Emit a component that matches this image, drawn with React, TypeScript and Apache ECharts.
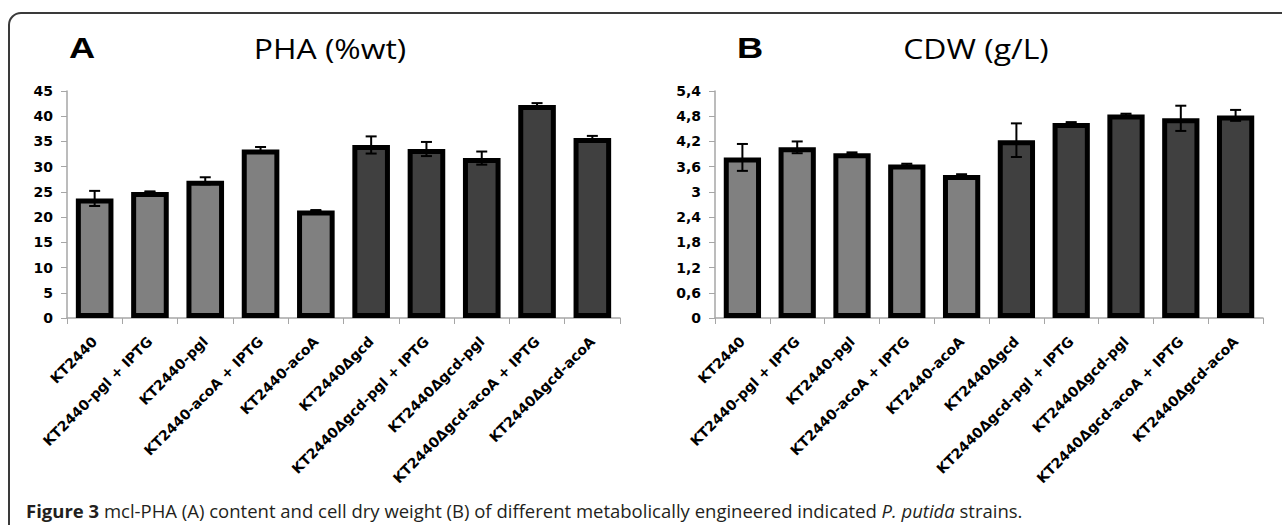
import React, { useEffect, useRef } from "react";
import * as echarts from "echarts";

const strains = [
  "KT2440",
  "KT2440-pgl + IPTG",
  "KT2440-pgl",
  "KT2440-acoA + IPTG",
  "KT2440-acoA",
  "KT2440Δgcd",
  "KT2440Δgcd-pgl + IPTG",
  "KT2440Δgcd-pgl",
  "KT2440Δgcd-acoA + IPTG",
  "KT2440Δgcd-acoA",
];
const phaMean = [23.7, 25.0, 27.2, 33.4, 21.3, 34.3, 33.5, 31.7, 42.2, 35.7];
const phaErr = [1.5, 0.1, 0.7, 0.5, 0.1, 1.7, 1.4, 1.3, 0.4, 0.4];
const cdwMean = [3.82, 4.06, 3.92, 3.65, 3.4, 4.23, 4.64, 4.84, 4.75, 4.82];
const cdwErr = [0.32, 0.14, 0.02, 0.02, 0.02, 0.4, 0.02, 0.02, 0.3, 0.13];
const phaTicks = { min: 0, max: 45, interval: 5 };
const cdwTicks = { min: 0, max: 5.4, interval: 0.6 };

const LIGHT = "#808080";
const DARK = "#404040";
const LABEL_FONT = "DejaVu Sans";

function barData(vals: number[]) {
  return vals.map((v, i) => ({
    value: v,
    itemStyle: { color: strains[i].includes("Δgcd") ? DARK : LIGHT },
  }));
}

function errRender(params: any, api: any) {
  const x = api.value(0);
  const v = api.value(1);
  const e = api.value(2);
  const hi = api.coord([x, v + e]);
  const lo = api.coord([x, v - e]);
  const hw = 5.5;
  const st = { stroke: "#000", lineWidth: 2 };
  return {
    type: "group",
    children: [
      { type: "line", shape: { x1: hi[0], y1: hi[1], x2: lo[0], y2: lo[1] }, style: st },
      { type: "line", shape: { x1: hi[0] - hw, y1: hi[1], x2: hi[0] + hw, y2: hi[1] }, style: st },
      { type: "line", shape: { x1: lo[0] - hw, y1: lo[1], x2: lo[0] + hw, y2: lo[1] }, style: st },
    ],
  };
}

function xAxis(gridIndex: number) {
  return {
    type: "category",
    gridIndex,
    data: strains,
    axisLine: { lineStyle: { color: "#a6a6a6", width: 1.5 } },
    axisTick: { show: true, length: 6, lineStyle: { color: "#a6a6a6" } },
    axisLabel: {
      rotate: 45,
      margin: 21,
      interval: 0,
      color: "#000",
      fontFamily: LABEL_FONT,
      fontWeight: "bold",
      fontSize: 14,
    },
  };
}

function yAxis(gridIndex: number, t: any, fmt: (v: number) => string) {
  return {
    type: "value",
    gridIndex,
    min: t.min,
    max: t.max,
    interval: t.interval,
    splitLine: { show: false },
    axisLine: { show: true, lineStyle: { color: "#a6a6a6", width: 1.5 } },
    axisTick: { show: true, length: 6, lineStyle: { color: "#a6a6a6" } },
    axisLabel: {
      margin: 14,
      color: "#000",
      fontFamily: LABEL_FONT,
      fontWeight: "bold",
      fontSize: 14,
      formatter: fmt,
    },
  };
}

function titleText(x: number, text: string, bold: boolean) {
  return {
    type: "text",
    x,
    y: 48,
    scaleX: bold ? 1.25 : 1.14,
    style: {
      text,
      fill: "#000",
      font: bold ? 'bold 29px "Liberation Sans"' : '28px "Open Sans"',
      textAlign: "center",
      align: "center",
      textVerticalAlign: "middle",
      verticalAlign: "middle",
    },
  };
}

export default function App() {
  const ref = useRef<HTMLDivElement>(null);
  useEffect(() => {
    if (!ref.current) return;
    const chart = echarts.init(ref.current, undefined, { renderer: "svg" });
    chart.setOption({
      animation: false,
      backgroundColor: "#fff",
      grid: [
        { left: 67, top: 91, width: 553, height: 227 },
        { left: 715, top: 91, width: 548, height: 227 },
      ],
      xAxis: [xAxis(0), xAxis(1)],
      yAxis: [
        yAxis(0, phaTicks, (v: number) => String(v)),
        yAxis(1, cdwTicks, (v: number) => String(Math.round(v * 10) / 10).replace(".", ",")),
      ],
      series: [
        {
          type: "bar",
          xAxisIndex: 0,
          yAxisIndex: 0,
          barWidth: "68%",
          data: barData(phaMean),
          itemStyle: { borderColor: "#000", borderWidth: 5 },
        },
        {
          type: "bar",
          xAxisIndex: 1,
          yAxisIndex: 1,
          barWidth: "68%",
          data: barData(cdwMean),
          itemStyle: { borderColor: "#000", borderWidth: 5 },
        },
        {
          type: "custom",
          xAxisIndex: 0,
          yAxisIndex: 0,
          z: 5,
          renderItem: errRender,
          encode: { x: 0, y: 1 },
          data: strains.map((s, i) => [i, phaMean[i], phaErr[i]]),
        },
        {
          type: "custom",
          xAxisIndex: 1,
          yAxisIndex: 1,
          z: 5,
          renderItem: errRender,
          encode: { x: 0, y: 1 },
          data: strains.map((s, i) => [i, cdwMean[i], cdwErr[i]]),
        },
      ],
      graphic: [
        {
          type: "rect",
          shape: { x: 9, y: 13, width: 1500, height: 700, r: 12 },
          style: { fill: "none", stroke: "#3a3a3a", lineWidth: 2 },
          silent: true,
        },
        titleText(82, "A", true),
        titleText(330, "PHA (%wt)", false),
        titleText(750, "B", true),
        titleText(976, "CDW (g/L)", false),
        {
          type: "text",
          x: 26,
          y: 510,
          style: {
            text:
              "{b|Figure 3} mcl-PHA (A) content and cell dry weight (B) of different metabolically engineered indicated {i|P. putida} strains.",
            font: '18.5px "Open Sans"',
            fill: "#231f20",
            textVerticalAlign: "middle",
            verticalAlign: "middle",
            rich: {
              b: { fontWeight: "bold", fontSize: 18.5, fontFamily: "Open Sans", fill: "#231f20" },
              i: { fontStyle: "italic", fontSize: 18.5, fontFamily: "Open Sans", fill: "#231f20" },
            },
          },
        },
      ],
    });
    return () => chart.dispose();
  }, []);
  return (
    <div
      ref={ref}
      style={{ position: "absolute", left: 0, top: 0, width: 1282, height: 525, background: "#fff" }}
    />
  );
}
